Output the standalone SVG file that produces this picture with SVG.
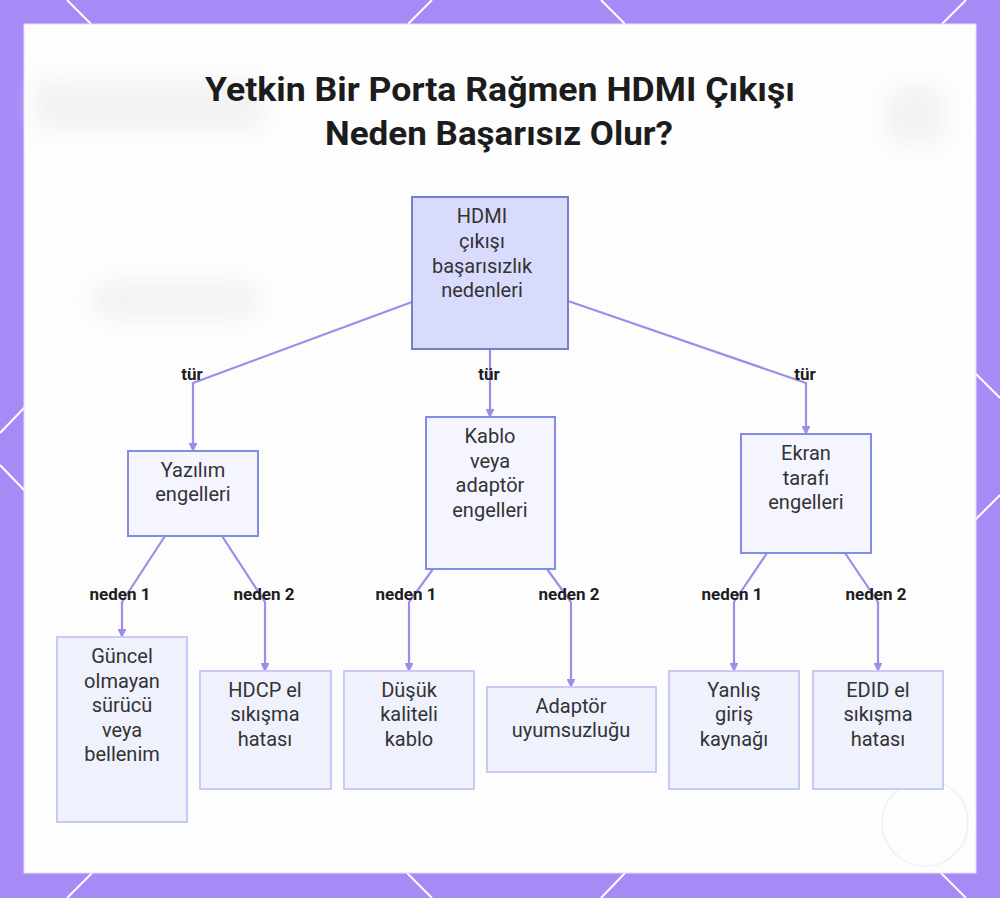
<svg xmlns="http://www.w3.org/2000/svg" width="1000" height="898" viewBox="0 0 1000 898">
<defs>
<style>
.title{font-family:Roboto,"Liberation Sans",sans-serif;font-weight:700;font-size:34px;fill:#1c1c1c;text-anchor:middle}
.nt{font-family:Roboto,"Liberation Sans",sans-serif;font-size:20px;fill:#333;text-anchor:middle}
.lbl{font-family:Roboto,"Liberation Sans",sans-serif;font-weight:700;font-size:17px;fill:#1e1e1e;text-anchor:middle}
.root{fill:#d9dbfc;stroke:#7580cc;stroke-width:2}
.mid{fill:#f4f5fe;stroke:#818de0;stroke-width:2}
.leaf{fill:#eff1fd;stroke:#c6cbf5;stroke-width:2}
.edge{fill:none;stroke:#a28be6;stroke-width:2.2;marker-end:url(#ah)}
.deco{stroke:#ffffff;stroke-width:2;fill:none}
</style>
<marker id="ah" viewBox="0 0 10 10" refX="9" refY="5" markerWidth="4" markerHeight="4" orient="auto">
<path d="M0,0 L10,5 L0,10 z" fill="#a28be6"/>
</marker>
<filter id="blur" x="-30%" y="-60%" width="160%" height="220%"><feGaussianBlur stdDeviation="10"/></filter>
</defs>
<rect x="0" y="0" width="1000" height="898" fill="#a68bf7"/>
<g class="deco">
<line x1="67" y1="0" x2="91" y2="24"/>
<line x1="432" y1="0" x2="408" y2="24"/>
<line x1="601" y1="0" x2="625" y2="24"/>
<line x1="966" y1="0" x2="942" y2="24"/>
<line x1="92" y1="873" x2="67" y2="898"/>
<line x1="407" y1="873" x2="432" y2="898"/>
<line x1="625" y1="873" x2="601" y2="898"/>
<line x1="941" y1="873" x2="966" y2="898"/>
<line x1="0" y1="433" x2="25" y2="407"/>
<line x1="0" y1="465" x2="25" y2="491"/>
<line x1="975" y1="373" x2="1000" y2="398"/>
<line x1="975" y1="520" x2="1000" y2="495"/>
</g>
<rect x="24" y="24" width="952" height="849" fill="#fdfdfd" stroke="#e6ddf8" stroke-width="1"/>
<g filter="url(#blur)" fill="#f3f3f3">
<rect x="35" y="80" width="230" height="50" rx="10"/>
<rect x="90" y="282" width="170" height="36" rx="18"/>
<rect x="885" y="85" width="60" height="60" rx="20"/>
</g>
<circle cx="925" cy="823" r="43" fill="#fdfdfd" stroke="#f0f0f0" stroke-width="1.5"/>
<text class="title" x="500" y="101" textLength="590" lengthAdjust="spacingAndGlyphs">Yetkin Bir Porta Rağmen HDMI Çıkışı</text>
<text class="title" x="499" y="145" textLength="348" lengthAdjust="spacingAndGlyphs">Neden Başarısız Olur?</text>
<g id="connectors">
<polyline class="edge" points="412,302 193,383 193,451"/>
<polyline class="edge" points="490,349 490,417"/>
<polyline class="edge" points="568,301 806,383 806,434"/>
<polyline class="edge" points="165,536 122,602 122,637"/>
<polyline class="edge" points="222,536 265,602 265,671"/>
<polyline class="edge" points="433,569 409,602 409,671"/>
<polyline class="edge" points="547,569 571,602 571,687"/>
<polyline class="edge" points="767,553 734,602 734,671"/>
<polyline class="edge" points="845,553 878,602 878,671"/>
<g id="edge-labels">
<text class="lbl" x="192" y="380">tür</text>
<text class="lbl" x="489" y="380">tür</text>
<text class="lbl" x="805" y="380">tür</text>
<text class="lbl" x="120" y="600">neden 1</text>
<text class="lbl" x="264" y="600">neden 2</text>
<text class="lbl" x="406" y="600">neden 1</text>
<text class="lbl" x="569" y="600">neden 2</text>
<text class="lbl" x="732" y="600">neden 1</text>
<text class="lbl" x="876" y="600">neden 2</text>
</g>
</g>
<g id="node-root">
<rect class="root" x="412" y="197" width="156" height="152"/>
<text class="nt" x="482" y="223">HDMI</text>
<text class="nt" x="482" y="248">çıkışı</text>
<text class="nt" x="482" y="273">başarısızlık</text>
<text class="nt" x="482" y="297">nedenleri</text>
</g>
<g id="node-yazilim">
<rect class="mid" x="128" y="451" width="130" height="85"/>
<text class="nt" x="193" y="477">Yazılım</text>
<text class="nt" x="193" y="501">engelleri</text>
</g>
<g id="node-kablo">
<rect class="mid" x="426" y="417" width="129" height="152"/>
<text class="nt" x="490" y="443">Kablo</text>
<text class="nt" x="490" y="468">veya</text>
<text class="nt" x="490" y="492">adaptör</text>
<text class="nt" x="490" y="517">engelleri</text>
</g>
<g id="node-ekran">
<rect class="mid" x="741" y="434" width="130" height="119"/>
<text class="nt" x="806" y="460">Ekran</text>
<text class="nt" x="806" y="485">tarafı</text>
<text class="nt" x="806" y="509">engelleri</text>
</g>
<g id="node-guncel">
<rect class="leaf" x="57" y="637" width="130" height="185"/>
<text class="nt" x="122" y="663">Güncel</text>
<text class="nt" x="122" y="688">olmayan</text>
<text class="nt" x="122" y="712">sürücü</text>
<text class="nt" x="122" y="737">veya</text>
<text class="nt" x="122" y="761">bellenim</text>
</g>
<g id="node-hdcp">
<rect class="leaf" x="200" y="671" width="131" height="118"/>
<text class="nt" x="265" y="697">HDCP el</text>
<text class="nt" x="265" y="721">sıkışma</text>
<text class="nt" x="265" y="746">hatası</text>
</g>
<g id="node-dusuk">
<rect class="leaf" x="344" y="671" width="130" height="118"/>
<text class="nt" x="409" y="697">Düşük</text>
<text class="nt" x="409" y="721">kaliteli</text>
<text class="nt" x="409" y="746">kablo</text>
</g>
<g id="node-adaptor">
<rect class="leaf" x="487" y="687" width="169" height="85"/>
<text class="nt" x="571" y="713">Adaptör</text>
<text class="nt" x="571" y="737">uyumsuzluğu</text>
</g>
<g id="node-yanlis">
<rect class="leaf" x="669" y="671" width="130" height="118"/>
<text class="nt" x="734" y="697">Yanlış</text>
<text class="nt" x="734" y="721">giriş</text>
<text class="nt" x="734" y="746">kaynağı</text>
</g>
<g id="node-edid">
<rect class="leaf" x="813" y="671" width="130" height="118"/>
<text class="nt" x="878" y="697">EDID el</text>
<text class="nt" x="878" y="721">sıkışma</text>
<text class="nt" x="878" y="746">hatası</text>
</g>
</svg>
